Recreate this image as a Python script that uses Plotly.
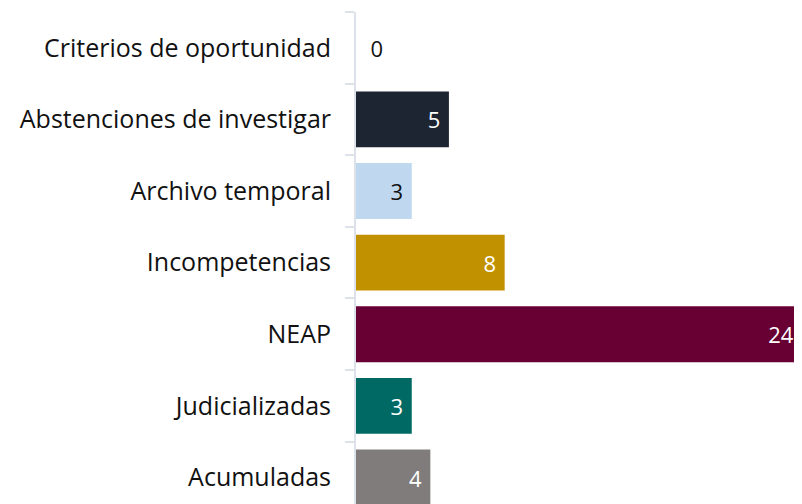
import plotly.graph_objects as go

categories = ["Criterios de oportunidad", "Abstenciones de investigar", "Archivo temporal",
              "Incompetencias", "NEAP", "Judicializadas", "Acumuladas"]
values = [0, 5, 3, 8, 24, 3, 4]
bar_colors = ["#1e2532", "#1e2532", "#bfd8ef", "#c19100", "#690033", "#016963", "#807c7c"]
text_colors = ["#111111", "#ffffff", "#111111", "#ffffff", "#ffffff", "#ffffff", "#ffffff"]
text_pos = ["outside", "inside", "inside", "inside", "inside", "inside", "inside"]

FONT = "'Open Sans', Lato, sans-serif"
labels = [("\u00a0\u00a0" + str(v)) if p == "outside" else str(v) + "\u00a0" for v, p in zip(values, text_pos)]

fig = go.Figure(go.Bar(
    y=categories, x=values, orientation="h",
    marker=dict(color=bar_colors, line=dict(width=0)),
    text=labels,
    textposition=text_pos,
    insidetextanchor="end",
    textfont=dict(family=FONT, size=22, color=text_colors),
    outsidetextfont=dict(family=FONT, size=22, color="#111111"),
    insidetextfont=dict(family=FONT, size=22, color=text_colors),
    cliponaxis=False,
    hoverinfo="skip",
))

fig.update_layout(
    width=794, height=496,
    margin=dict(l=348, r=0, t=4, b=0),
    paper_bgcolor="white", plot_bgcolor="white",
    bargap=0.22,
    showlegend=False,
    font=dict(family=FONT, size=22, color="#111111"),
)
fig.update_xaxes(range=[0, 24], visible=False, showgrid=False, zeroline=False)
fig.update_yaxes(
    categoryorder="array", categoryarray=categories,
    range=[6.37, -0.5],
    showline=True, linecolor="#dde2ea", linewidth=2,
    ticks="outside", tickson="boundaries", ticklen=9, tickcolor="#dde2ea", tickwidth=2,
    showgrid=False, zeroline=False,
    tickfont=dict(family=FONT, size=25, color="#111111"),
    ticklabelstandoff=18,
)

fig.write_html("out.html")
